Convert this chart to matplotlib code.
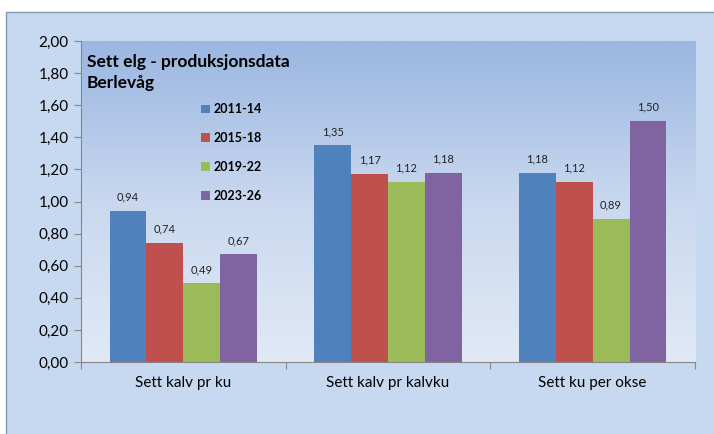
import numpy as np
import matplotlib.pyplot as plt
from matplotlib.patches import Rectangle
from matplotlib.colors import LinearSegmentedColormap

categories = ["Sett kalv pr ku", "Sett kalv pr kalvku", "Sett ku per okse"]
series = ["2011-14", "2015-18", "2019-22", "2023-26"]
v2011 = [0.94, 1.35, 1.18]
v2015 = [0.74, 1.17, 1.12]
v2019 = [0.49, 1.12, 0.89]
v2023 = [0.67, 1.18, 1.50]
values = [v2011, v2015, v2019, v2023]
colors = ["#4F81BD", "#C0504D", "#9BBB59", "#8064A2"]
yticks = [0.0, 0.2, 0.4, 0.6, 0.8, 1.0, 1.2, 1.4, 1.6, 1.8, 2.0]

plt.rcParams['font.family'] = ['Lato', 'DejaVu Sans']

W, H = 714, 434
fig = plt.figure(figsize=(W / 100, H / 100), dpi=100)
fig.patch.set_facecolor("white")
# chart area box
fig.patches.append(Rectangle((6 / W, -0.01), 1, (H - 12) / H + 0.01,
                             transform=fig.transFigure, facecolor="#C6D9F0",
                             edgecolor="#8497B0", linewidth=1.0, zorder=-5))

ax = fig.add_axes([81 / W, 1 - 362 / H, 614 / W, 321 / H])
ax.set_zorder(2)
ax.set_facecolor("none")

# gradient plot area
cmap = LinearSegmentedColormap.from_list("bg", ["#E1E9F6", "#C9D8EF", "#9AB6E1"])
grad = np.linspace(0, 1, 256).reshape(-1, 1)
ax.imshow(grad, cmap=cmap, aspect="auto", extent=[0, 1, 0, 1],
          transform=ax.transAxes, origin="lower", zorder=0)

x = np.arange(len(categories))
bw = 0.18
for i, (s, vals, c) in enumerate(zip(series, values, colors)):
    bars = ax.bar(x + (i - 1.5) * bw, vals, bw, color=c, label=s, zorder=2)
    ax.bar_label(bars, labels=[f"{v:.2f}".replace(".", ",") for v in vals],
                 padding=6, fontsize=8, color="#222222")

ax.set_xlim(-0.5, 2.5)
ax.set_ylim(0, 2.0)
ax.set_yticks(yticks)
ax.set_yticklabels([f"{t:.2f}".replace(".", ",") for t in yticks], fontsize=11)
ax.set_xticks([-0.5, 0.5, 1.5, 2.5])
ax.set_xticklabels([])
ax.set_xticks(x, minor=True)
ax.set_xticklabels(categories, minor=True, fontsize=11)
ax.tick_params(axis="x", which="major", length=5, color="#868686", direction="out")
ax.tick_params(axis="x", which="minor", length=0, pad=10)
ax.tick_params(axis="y", length=5, color="#868686", pad=4)
for sp in ["top", "right"]:
    ax.spines[sp].set_visible(False)
for sp in ["left", "bottom"]:
    ax.spines[sp].set_color("#868686")

fig.text(87 / W, 1 - 62 / H, "Sett elg - produksjonsdata", fontsize=12.5,
         fontweight="bold", va="center", ha="left", color="black", zorder=5)
fig.text(87 / W, 1 - 83 / H, "Berlevåg", fontsize=12.5,
         fontweight="bold", va="center", ha="left", color="black", zorder=5)

leg = ax.legend(loc="upper left", bbox_to_anchor=(190 / W, 1 - 92 / H),
                bbox_transform=fig.transFigure, frameon=False,
                prop={"weight": "bold", "size": 9}, handlelength=0.7,
                handleheight=0.7, handletextpad=0.3, labelspacing=1.35)

fig.savefig("out.png", dpi=100)
